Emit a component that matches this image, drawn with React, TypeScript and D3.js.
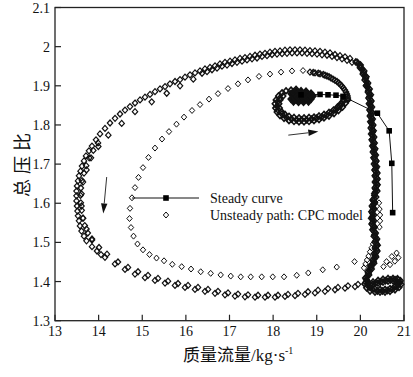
import React from 'react';
import * as d3 from 'd3';

type P = [number, number];

const xTicks: number[] = [13, 14, 15, 16, 17, 18, 19, 20, 21];
const yTicks: number[] = [1.3, 1.4, 1.5, 1.6, 1.7, 1.8, 1.9, 2, 2.1];
const legendLabels: string[] = ['Steady curve', 'Unsteady path: CPC model'];

// steady speed line (filled squares)
const steadyCurve: P[] = [
  [18.64, 1.877], [19.075, 1.878], [19.258, 1.877], [19.441, 1.876], [19.602, 1.873],
  [20.39, 1.83], [20.66, 1.785], [20.72, 1.702], [20.74, 1.576],
];

// unsteady path: converged core near surge point
const eyeCore: P[] = [
  [18.41, 1.88], [18.525, 1.887], [18.64, 1.887], [18.754, 1.886], [18.869, 1.881],
  [18.467, 1.872], [18.582, 1.877], [18.697, 1.878], [18.811, 1.873], [18.41, 1.866],
  [18.525, 1.864], [18.64, 1.866], [18.754, 1.865], [18.869, 1.866], [18.582, 1.858],
  [18.697, 1.858], [18.467, 1.859], [18.811, 1.859], [18.6, 1.87], [18.7, 1.869],
  [18.5, 1.869], [18.92, 1.874], [18.46, 1.884], [18.58, 1.882], [18.75, 1.879],
  [18.55, 1.872], [18.66, 1.872], [18.78, 1.868], [18.85, 1.876],
];

// first small loop around the surge point
const eyeRing: P[] = [
  [18.525, 1.891], [18.41, 1.889], [18.295, 1.887], [18.204, 1.882], [18.123, 1.874],
  [18.066, 1.864], [18.043, 1.854], [18.055, 1.843], [18.089, 1.833], [18.158, 1.824],
  [18.25, 1.817], [18.364, 1.811], [18.479, 1.809], [18.593, 1.808], [18.708, 1.808],
  [18.823, 1.809], [18.937, 1.811], [19.052, 1.814], [19.166, 1.818], [19.281, 1.823],
  [19.396, 1.829], [19.499, 1.837], [19.591, 1.846], [19.66, 1.856], [19.705, 1.865],
  [18.227, 1.874], [18.158, 1.864], [18.135, 1.854], [18.146, 1.843], [18.192, 1.834],
  [18.272, 1.827], [18.364, 1.822], [18.479, 1.819], [18.593, 1.818], [18.708, 1.818],
  [18.823, 1.819], [18.937, 1.82], [19.052, 1.823], [19.166, 1.827], [19.281, 1.832],
  [19.384, 1.838], [19.476, 1.846], [19.556, 1.855], [19.614, 1.864],
  [18.158, 1.869], [18.101, 1.859], [18.089, 1.848], [18.112, 1.838], [18.204, 1.828],
  [18.307, 1.819], [18.421, 1.815], [18.536, 1.813], [18.651, 1.813], [18.765, 1.813],
  [18.88, 1.815], [18.995, 1.817], [19.109, 1.82], [19.224, 1.825], [19.338, 1.831],
  [19.442, 1.839], [19.533, 1.848], [19.602, 1.859],
];

// loop leaving the small ring, upper right
const eyeBand: P[] = [
  [18.845, 1.935], [18.96, 1.933], [19.075, 1.931], [19.189, 1.927], [19.281, 1.923],
  [19.373, 1.917], [19.464, 1.911], [19.545, 1.903], [19.614, 1.894], [19.671, 1.884],
  [19.705, 1.874], [19.717, 1.864], [18.919, 1.934], [19.034, 1.932], [19.149, 1.929],
  [19.235, 1.925], [19.327, 1.92], [19.418, 1.914], [19.506, 1.907], [19.579, 1.899],
  [19.643, 1.889], [19.689, 1.879], [19.712, 1.869],
];

// wide transient loop (sparse diamonds)
const transient: P[] = [
  [18.685, 1.939], [18.433, 1.938], [18.181, 1.935], [17.928, 1.93], [17.676, 1.924],
  [17.424, 1.915], [17.195, 1.905], [16.966, 1.893], [16.737, 1.88], [16.53, 1.866],
  [16.324, 1.852], [16.141, 1.837], [15.957, 1.82], [15.785, 1.802], [15.613, 1.783],
  [15.453, 1.764], [15.292, 1.741], [15.143, 1.717], [15.017, 1.691], [14.914, 1.666],
  [14.834, 1.64], [14.765, 1.614], [14.719, 1.587], [14.708, 1.561], [14.742, 1.538],
  [14.8, 1.516], [14.891, 1.496], [15.017, 1.481], [15.166, 1.469], [15.327, 1.46],
  [15.499, 1.453], [15.689, 1.444], [15.904, 1.438], [16.118, 1.432], [16.34, 1.425],
  [16.569, 1.421], [16.798, 1.417], [17.028, 1.414], [17.257, 1.412], [17.486, 1.412],
  [17.738, 1.412], [17.991, 1.412], [18.25, 1.412], [18.541, 1.416], [18.806, 1.422],
  [19.137, 1.43], [19.458, 1.437], [19.866, 1.451],
];

// scattered diamonds beside the right-hand branch
const transientClusters: P[] = [
  [20.29, 1.496], [20.256, 1.486], [20.221, 1.476], [20.187, 1.465], [20.152, 1.455],
  [20.118, 1.445], [20.083, 1.435],
  [20.427, 1.601], [20.438, 1.585], [20.45, 1.57], [20.45, 1.555], [20.438, 1.539],
  [20.53, 1.438], [20.6, 1.451], [20.72, 1.464], [20.83, 1.473], [20.87, 1.461],
  [20.79, 1.452], [20.68, 1.443],
];

// deep surge limit cycle, outer pass
const limitOuter: P[] = [
  [19.923, 1.961], [19.762, 1.97], [19.648, 1.974], [19.533, 1.977], [19.418, 1.98],
  [19.304, 1.984], [19.189, 1.986], [19.075, 1.988], [18.96, 1.989], [18.845, 1.99],
  [18.731, 1.991], [18.616, 1.992], [18.502, 1.992], [18.387, 1.992], [18.272, 1.991],
  [18.158, 1.989], [18.043, 1.988], [17.928, 1.986], [17.814, 1.983], [17.699, 1.981],
  [17.585, 1.978], [17.47, 1.975], [17.355, 1.972], [17.241, 1.97], [17.126, 1.966],
  [17.012, 1.963], [16.897, 1.96], [16.782, 1.956], [16.668, 1.951], [16.553, 1.947],
  [16.438, 1.943], [16.324, 1.938], [16.209, 1.933], [16.095, 1.928], [15.98, 1.922],
  [15.866, 1.916], [15.751, 1.911], [15.636, 1.905], [15.522, 1.898], [15.407, 1.892],
  [15.292, 1.885], [15.178, 1.878], [15.063, 1.871], [14.949, 1.864], [14.834, 1.856],
  [14.719, 1.847], [14.605, 1.838], [14.49, 1.828], [14.376, 1.817], [14.261, 1.805],
  [14.146, 1.791], [14.032, 1.777], [13.94, 1.762], [13.848, 1.746], [13.779, 1.734],
  [13.711, 1.721], [13.665, 1.708], [13.619, 1.695], [13.585, 1.682], [13.55, 1.67],
  [13.527, 1.657], [13.504, 1.644], [13.493, 1.631], [13.493, 1.619], [13.493, 1.606],
  [13.504, 1.593], [13.516, 1.58], [13.527, 1.568], [13.55, 1.555], [13.573, 1.542],
  [13.608, 1.529], [13.665, 1.516], [13.722, 1.504], [13.848, 1.489], [13.963, 1.478],
  [14.055, 1.469], [14.146, 1.462], [14.376, 1.445], [14.605, 1.431], [14.834, 1.419],
  [15.063, 1.41], [15.292, 1.403], [15.522, 1.396], [15.751, 1.39], [15.98, 1.385],
  [16.209, 1.38], [16.438, 1.375], [16.668, 1.37], [16.897, 1.366], [17.126, 1.363],
  [17.355, 1.361], [17.585, 1.36], [17.814, 1.36], [18.043, 1.36], [18.272, 1.362],
  [18.502, 1.364], [18.731, 1.367], [18.96, 1.371], [19.189, 1.375], [19.418, 1.379],
  [19.648, 1.383], [19.877, 1.387],
];

// deep surge limit cycle, inner pass
const limitInner: P[] = [
  [19.808, 1.96], [19.579, 1.969], [19.35, 1.975], [19.121, 1.979], [18.891, 1.982],
  [18.662, 1.984], [18.433, 1.984], [18.204, 1.982], [17.974, 1.98], [17.745, 1.975],
  [17.516, 1.969], [17.287, 1.963], [17.057, 1.957], [16.828, 1.95], [16.599, 1.941],
  [16.37, 1.932], [16.17, 1.917], [15.866, 1.9], [15.561, 1.881], [15.217, 1.859],
  [14.834, 1.834], [14.529, 1.804], [14.222, 1.774], [13.993, 1.745], [13.825, 1.716],
  [13.722, 1.685], [13.642, 1.654], [13.608, 1.624], [13.608, 1.593], [13.642, 1.562],
  [13.722, 1.534], [13.848, 1.509], [14.009, 1.487], [14.192, 1.47], [14.444, 1.45],
  [14.673, 1.436], [14.903, 1.425], [15.132, 1.416], [15.361, 1.408], [15.59, 1.401],
  [15.82, 1.395], [16.049, 1.39], [16.278, 1.385], [16.507, 1.38], [16.736, 1.375],
  [16.966, 1.371], [17.195, 1.368], [17.424, 1.366], [17.654, 1.365], [17.883, 1.365],
  [18.112, 1.365], [18.341, 1.367], [18.57, 1.37], [18.8, 1.374], [19.029, 1.378],
  [19.258, 1.382], [19.487, 1.385], [19.716, 1.389], [19.946, 1.393],
];

// deep surge limit cycle, further passes (top and left)
const limitMid: P[] = [
  [19.694, 1.965], [19.464, 1.972], [19.235, 1.978], [19.006, 1.981], [18.777, 1.983],
  [18.547, 1.984], [18.318, 1.983], [18.089, 1.981], [17.86, 1.977], [17.631, 1.971],
  [17.401, 1.966], [17.172, 1.96], [16.943, 1.953], [16.714, 1.945], [16.485, 1.936],
  [13.986, 1.754], [13.878, 1.735], [13.784, 1.716], [13.715, 1.696], [13.665, 1.677],
  [13.619, 1.658], [13.594, 1.639], [13.585, 1.62], [13.592, 1.601], [13.612, 1.582],
  [13.642, 1.562], [13.683, 1.543], [13.752, 1.524], [13.848, 1.506],
];

// right-hand (near-vertical) branch of the limit cycle
const limitBandA: P[] = [
  [19.895, 1.961], [19.994, 1.946], [20.058, 1.93], [20.101, 1.915], [20.131, 1.9],
  [20.175, 1.884], [20.189, 1.869], [20.2, 1.854], [20.211, 1.838], [20.221, 1.823],
  [20.23, 1.808], [20.241, 1.792], [20.25, 1.777], [20.262, 1.762], [20.276, 1.746],
  [20.29, 1.731], [20.303, 1.716], [20.315, 1.7], [20.326, 1.685], [20.333, 1.67],
  [20.337, 1.654], [20.333, 1.639], [20.322, 1.624], [20.285, 1.608], [20.267, 1.593],
  [20.256, 1.578], [20.25, 1.562], [20.26, 1.547], [20.28, 1.532], [20.31, 1.516],
  [20.333, 1.501], [20.337, 1.486], [20.319, 1.471], [20.283, 1.455], [20.23, 1.44],
  [20.17, 1.425], [20.115, 1.409], [20.097, 1.394],
];
const limitBandB: P[] = [
  [20.003, 1.953], [20.086, 1.938], [20.136, 1.923], [20.173, 1.907], [20.209, 1.892],
  [20.237, 1.877], [20.25, 1.861], [20.262, 1.846], [20.271, 1.831], [20.28, 1.815],
  [20.292, 1.8], [20.301, 1.785], [20.312, 1.769], [20.324, 1.754], [20.337, 1.739],
  [20.351, 1.723], [20.365, 1.708], [20.377, 1.693], [20.386, 1.677], [20.391, 1.662],
  [20.391, 1.647], [20.384, 1.631], [20.358, 1.616], [20.331, 1.601], [20.315, 1.585],
  [20.308, 1.57], [20.308, 1.555], [20.324, 1.539], [20.349, 1.524], [20.379, 1.509],
  [20.393, 1.493], [20.386, 1.478], [20.358, 1.463], [20.312, 1.447], [20.255, 1.432],
  [20.196, 1.417], [20.154, 1.402],
];
const limitBandC: P[] = [
  [19.95, 1.957], [19.998, 1.949], [20.04, 1.942], [20.072, 1.934], [20.097, 1.926],
  [20.12, 1.919], [20.138, 1.911], [20.152, 1.903], [20.166, 1.896], [20.186, 1.888],
  [20.205, 1.88], [20.212, 1.873], [20.221, 1.865], [20.225, 1.857], [20.232, 1.85],
  [20.237, 1.842], [20.241, 1.834], [20.246, 1.827], [20.25, 1.819], [20.255, 1.811],
  [20.26, 1.804], [20.267, 1.796], [20.271, 1.788], [20.276, 1.781], [20.281, 1.773],
  [20.287, 1.765], [20.292, 1.758], [20.299, 1.75], [20.306, 1.742], [20.313, 1.735],
  [20.319, 1.727], [20.326, 1.719], [20.335, 1.712], [20.34, 1.704], [20.345, 1.696],
  [20.352, 1.689], [20.356, 1.681], [20.358, 1.673], [20.361, 1.666], [20.363, 1.658],
  [20.363, 1.651], [20.361, 1.643], [20.356, 1.635], [20.34, 1.628], [20.324, 1.62],
  [20.315, 1.612], [20.308, 1.605], [20.299, 1.597], [20.29, 1.589], [20.285, 1.582],
  [20.281, 1.574], [20.278, 1.566], [20.278, 1.559], [20.283, 1.551], [20.292, 1.543],
  [20.301, 1.536], [20.315, 1.528], [20.329, 1.52], [20.345, 1.513], [20.356, 1.505],
  [20.363, 1.497], [20.365, 1.49], [20.363, 1.482], [20.354, 1.474], [20.34, 1.467],
  [20.322, 1.459], [20.299, 1.451], [20.271, 1.444], [20.241, 1.436], [20.212, 1.428],
  [20.184, 1.421], [20.157, 1.413], [20.136, 1.405], [20.125, 1.398],
];

// hook at the low-pressure end of the cycle
const limitHook: P[] = [
  [20.141, 1.384], [20.221, 1.376], [20.335, 1.373], [20.45, 1.373], [20.565, 1.373],
  [20.679, 1.375], [20.794, 1.379], [20.886, 1.385], [20.932, 1.393], [20.92, 1.402],
  [20.851, 1.407], [20.748, 1.408], [20.634, 1.408], [20.519, 1.406], [20.404, 1.403],
  [20.29, 1.399], [20.175, 1.395],
  [20.221, 1.385], [20.335, 1.381], [20.45, 1.38], [20.565, 1.38], [20.679, 1.382],
  [20.782, 1.386], [20.851, 1.393], [20.84, 1.399], [20.748, 1.402], [20.634, 1.401],
  [20.519, 1.399], [20.404, 1.396], [20.29, 1.393],
  [20.175, 1.389], [20.278, 1.38], [20.393, 1.376], [20.507, 1.376], [20.622, 1.377],
  [20.737, 1.381], [20.84, 1.387], [20.897, 1.396], [20.874, 1.404], [20.794, 1.405],
  [20.691, 1.404], [20.576, 1.402], [20.461, 1.399], [20.347, 1.396], [20.232, 1.392],
];

// direction arrows (data coordinates: tail, head)
const arrowLeft: P[] = [[14.185, 1.667], [14.107, 1.574]];
const arrowRight: P[] = [[18.348, 1.774], [19.036, 1.783]];

const SERIF = 'Liberation Serif, Times New Roman, DejaVu Serif, serif';
const CJK = 'Liberation Serif, Noto Sans CJK SC, serif';

export default function App() {
  const W = 413;
  const H = 377;
  const left = 55, right = 404, top = 7.5, bottom = 320.7;
  const x = d3.scaleLinear().domain([13, 21]).range([left, right]);
  const y = d3.scaleLinear().domain([1.3, 2.1]).range([bottom, top]);

  const groups: { pts: P[]; sw: number; fill: string }[] = [
    { pts: transient, sw: 1, fill: 'none' },
    { pts: transientClusters, sw: 1, fill: 'none' },
    { pts: limitOuter, sw: 1.2, fill: 'none' },
    { pts: limitInner, sw: 1.2, fill: 'none' },
    { pts: limitMid, sw: 1.2, fill: 'none' },
    { pts: eyeBand, sw: 1.3, fill: 'none' },
    { pts: eyeRing, sw: 1.6, fill: 'none' },
    { pts: eyeCore, sw: 1.8, fill: '#111' },
    { pts: limitBandA, sw: 1.6, fill: 'none' },
    { pts: limitBandB, sw: 1.6, fill: 'none' },
    { pts: limitBandC, sw: 1.6, fill: 'none' },
    { pts: limitHook, sw: 1.6, fill: 'none' },
  ];
  const diamond = 'M0,-3L2.7,0L0,3L-2.7,0Z';
  const line = d3.line<P>().x((d) => x(d[0])).y((d) => y(d[1]));

  const arrow = (a: P[], key: string) => {
    const x0 = x(a[0][0]), y0 = y(a[0][1]);
    const x1 = x(a[1][0]), y1 = y(a[1][1]);
    const ang = Math.atan2(y1 - y0, x1 - x0);
    const L = 10, Wd = 3.2;
    const bx = x1 - L * Math.cos(ang), by = y1 - L * Math.sin(ang);
    const px = -Math.sin(ang) * Wd, py = Math.cos(ang) * Wd;
    return (
      <g key={key}>
        <line x1={x0} y1={y0} x2={bx} y2={by} stroke="#333" strokeWidth={1} />
        <path d={`M${x1},${y1}L${bx + px},${by + py}L${bx - px},${by - py}Z`} fill="#111" />
      </g>
    );
  };

  const sq = 5.6;
  const serifStyle = { fontFamily: SERIF };
  const cjkStyle = { fontFamily: CJK };

  return (
    <svg width={W} height={H} style={{ position: 'absolute', left: 0, top: 0, background: '#fff' }}>
      <rect x={0} y={0} width={W} height={H} fill="#fff" />
      {groups.map((g, gi) => (
        <g key={gi} fill={g.fill} stroke="#111" strokeWidth={g.sw}>
          {g.pts.map((d, i) => (
            <path key={i} d={diamond} transform={`translate(${x(d[0])},${y(d[1])})`} />
          ))}
        </g>
      ))}
      {/* steady curve */}
      <path d={line(steadyCurve) || ''} fill="none" stroke="#111" strokeWidth={1} />
      {steadyCurve.map((d, i) => (
        <rect key={i} x={x(d[0]) - sq / 2} y={y(d[1]) - sq / 2} width={sq} height={sq} fill="#000" />
      ))}
      {arrow(arrowLeft, 'al')}
      {arrow(arrowRight, 'ar')}
      {/* frame */}
      <rect x={left} y={top} width={right - left} height={bottom - top} fill="none" stroke="#222" strokeWidth={1.3} />
      {xTicks.map((t) => (
        <g key={'x' + t}>
          <line x1={x(t)} x2={x(t)} y1={bottom} y2={bottom - 6} stroke="#222" strokeWidth={1.2} />
          <text x={x(t)} y={bottom + 15} textAnchor="middle" style={serifStyle} fontSize={14} fill="#111">{String(t)}</text>
        </g>
      ))}
      {yTicks.map((t) => (
        <g key={'y' + t}>
          <line x1={left} x2={left + 6} y1={y(t)} y2={y(t)} stroke="#222" strokeWidth={1.2} />
          <text x={left - 5} y={y(t) + 5} textAnchor="end" style={serifStyle} fontSize={14} fill="#111">{String(t)}</text>
        </g>
      ))}
      {/* legend */}
      <line x1={132} x2={199} y1={198} y2={198} stroke="#111" strokeWidth={1} />
      <rect x={166 - sq / 2} y={198 - sq / 2} width={sq} height={sq} fill="#000" />
      <path d={diamond} transform="translate(166,215)" fill="none" stroke="#111" strokeWidth={1} />
      <text x={210} y={202.5} style={serifStyle} fontSize={14} fill="#111">{legendLabels[0]}</text>
      <text x={210} y={219.5} style={serifStyle} fontSize={14} fill="#111">{legendLabels[1]}</text>
      {/* axis titles */}
      <text x={183} y={361} style={cjkStyle} fontSize={17} fill="#111">
        质量流量/kg·s<tspan fontSize={10} dy={-7}>-1</tspan>
      </text>
      <text transform="translate(29,165) rotate(-90)" textAnchor="middle" style={cjkStyle} fontSize={18} fill="#111" textLength={64} lengthAdjust="spacing">总压比</text>
    </svg>
  );
}
